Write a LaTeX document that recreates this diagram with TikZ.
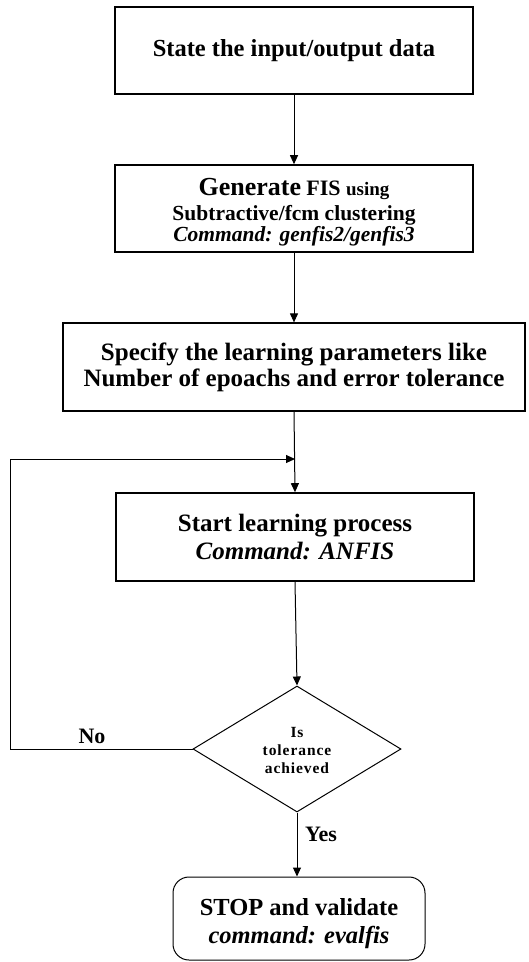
\documentclass[tikz,border=0pt]{standalone}
\usepackage{fontspec}
\setmainfont{Liberation Serif}
\newfontfamily\spacedfont[LetterSpace=6]{Liberation Serif}
\usetikzlibrary{arrows.meta,shapes.geometric}
\begin{document}
\begin{tikzpicture}[x=1pt,y=-1pt,
  box/.style={draw, line width=1.6pt, rectangle, inner sep=0pt, align=center},
  arr/.style={line width=1pt, -{Triangle[length=9pt,width=8pt]}},
  lbl/.style={inner sep=0pt, font=\bfseries\fontsize{22}{26}\selectfont}]
\useasboundingbox (0,0) rectangle (528,962);
\node[box, minimum width=358pt, minimum height=87pt, font=\bfseries\fontsize{24.5}{28}\selectfont] (b1) at (294,50.5) {State the input/output data};
\node[box, minimum width=358pt, minimum height=87pt, font=\bfseries\fontsize{21.5}{23}\selectfont] (b2) at (294,208.5)
  {\rule{0pt}{25pt}{\fontsize{26}{26}\selectfont Generate} {\fontsize{22}{26}\selectfont FIS} {\fontsize{19}{26}\selectfont using}\\[2pt]
   Subtractive/fcm clustering\\[-2pt]
   \textit{Command: genfis2/genfis3}};
\node[box, line width=1.2pt, minimum width=462pt, minimum height=88pt, font=\bfseries\fontsize{25}{26}\selectfont] (b3) at (294,367)
  {Specify the learning parameters like\\Number of epoachs and error tolerance};
\node[box, minimum width=358pt, minimum height=88pt, font=\bfseries\fontsize{25}{28}\selectfont] (b4) at (295,537)
  {Start learning process\\\textit{Command: ANFIS}};
\node[draw, diamond, line width=1pt, minimum width=208pt, minimum height=126pt, inner sep=0pt, align=center,
  font=\bfseries\spacedfont\fontsize{15.5}{18}\selectfont] (d) at (297,749) {\rule{0pt}{14pt}Is\\tolerance\\achieved};
\node[draw, rectangle, rounded corners=16pt, line width=1pt, minimum width=252pt, minimum height=83pt, inner sep=0pt, align=center,
  font=\bfseries\fontsize{24.5}{28}\selectfont] (stop) at (299,918.5) {\rule{0pt}{27pt}STOP and validate\\\textit{command: evalfis}};
\coordinate (lft) at (10,749);
\coordinate (j) at (295,459);
\draw[arr] (b1.south) -- (b2.north);
\draw[arr] (b2.south) -- (b3.north);
\draw[arr] (b3.south) -- (b4.north);
\draw[arr] (b4.south) -- (d.north);
\draw[arr] (d.south) -- (d.south |- stop.north);
\draw[arr] (d.west) -- (lft) |- (j);
\node[lbl] (no) at (92,736) {No};
\node[lbl] (yes) at (321,834) {Yes};
\end{tikzpicture}
\end{document}
